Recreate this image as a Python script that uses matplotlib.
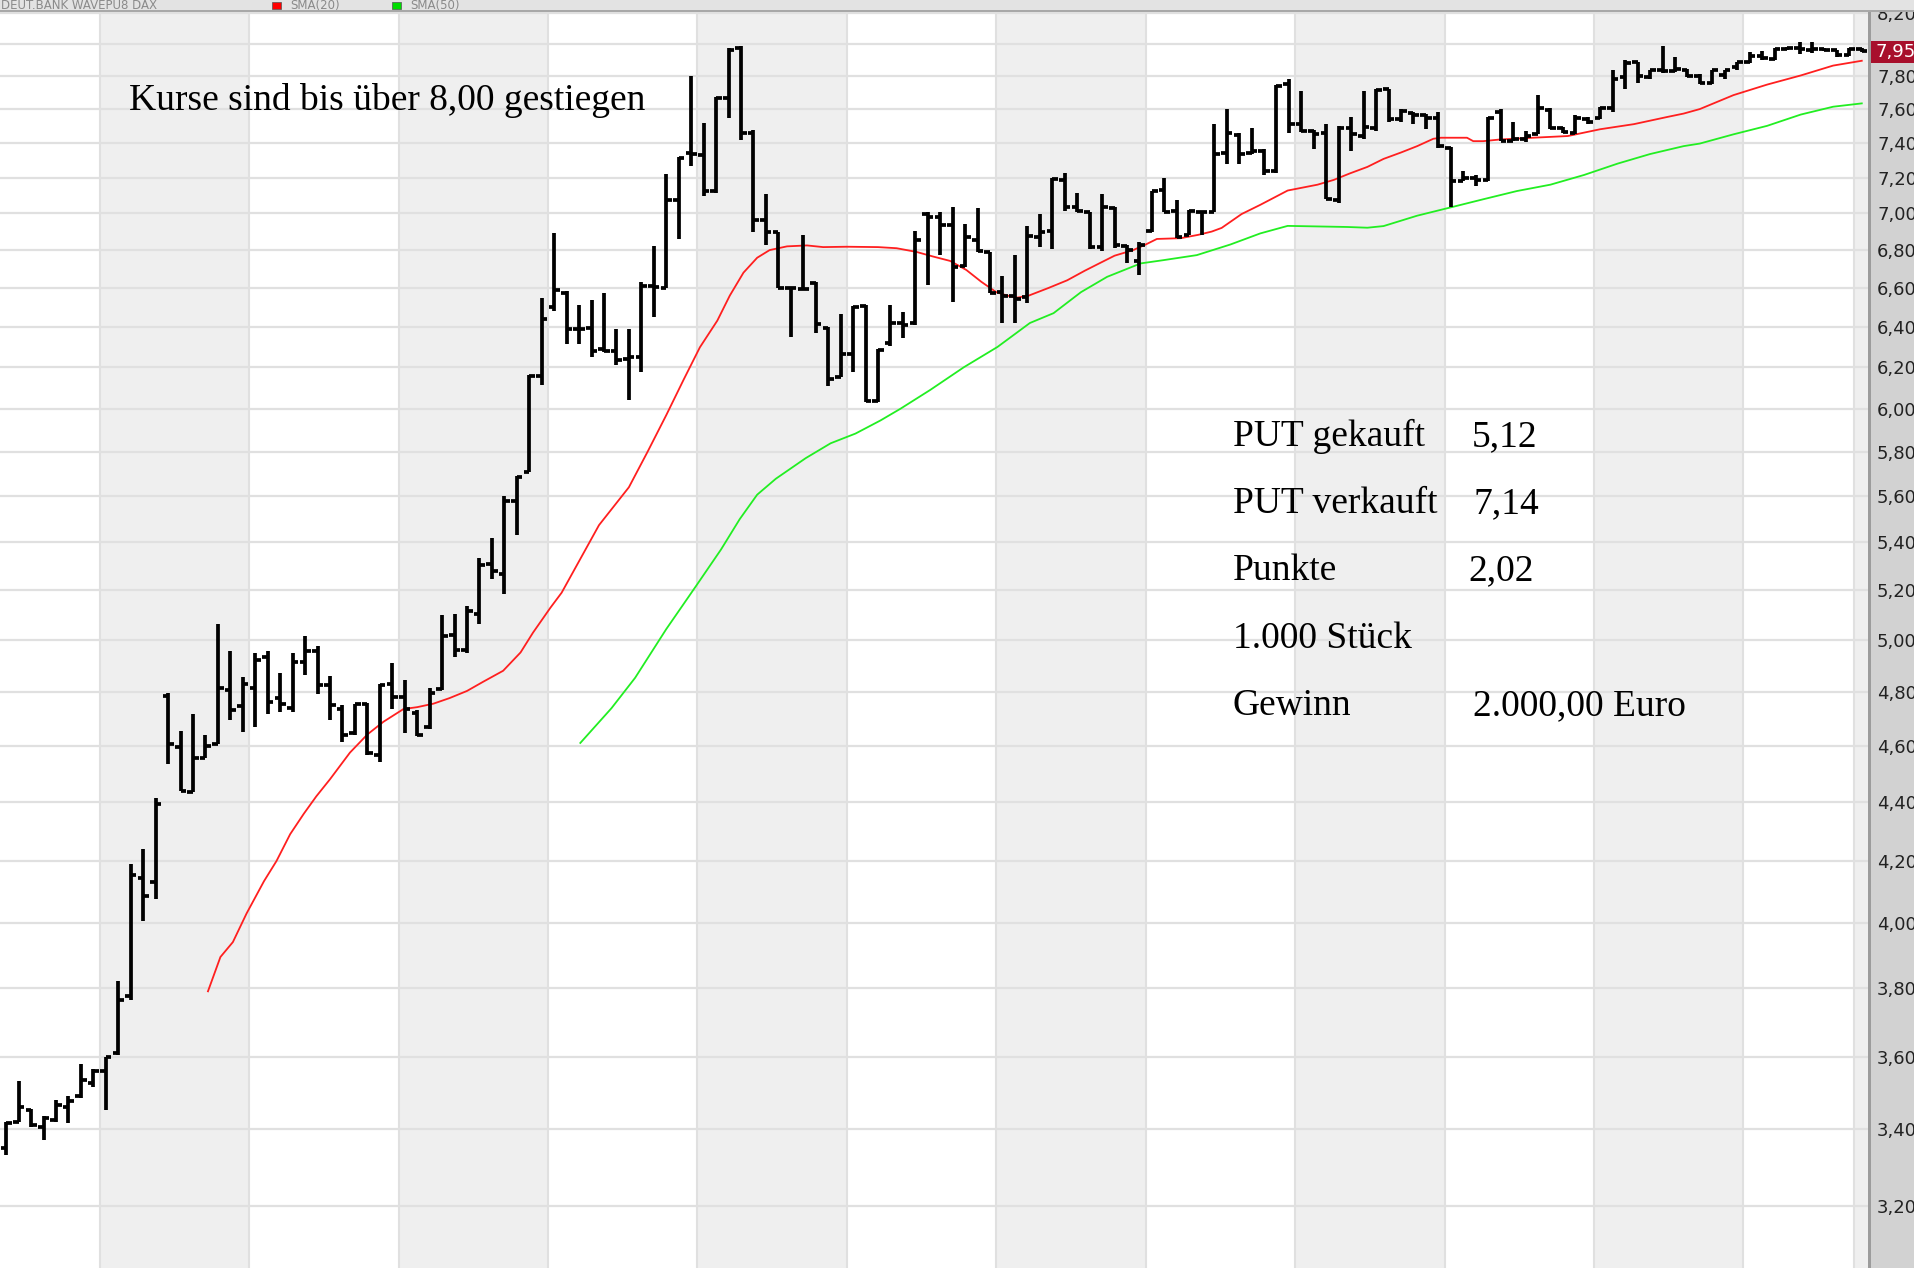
import numpy as np
import matplotlib
matplotlib.use('Agg')
import matplotlib.pyplot as plt
from matplotlib.patches import Rectangle
from matplotlib.ticker import NullLocator

W, H = 1915, 1268

# OHLC bars, one per slot (left tick = open, right tick = close)
opens = [3.35, 3.42, 3.45, 3.405, 3.425, 3.46, 3.49, 3.525, 3.56, 3.61,
         3.775, 4.145, 4.13, 4.785, 4.595, 4.435, 4.555, 4.605, 4.805, 4.745,
         4.815, 4.935, 4.775, 4.74, 4.915, 4.955, 4.825, 4.735, 4.645, 4.755,
         4.565, 4.83, 4.78, 4.72, 4.67, 4.81, 5.02, 4.96, 5.105, 5.31,
         5.265, 5.58, 5.71, 6.155, 6.50, 6.575, 6.39, 6.395, 6.29, 6.28,
         6.24, 6.25, 6.61, 6.60, 7.075, 7.34, 7.33, 7.125, 7.665, 7.975,
         7.46, 6.965, 6.895, 6.60, 6.595, 6.625, 6.395, 6.15, 6.265, 6.505,
         6.035, 6.32, 6.42, 6.42, 6.995, 6.98, 6.935, 6.715, 6.855, 6.79,
         6.58, 6.56, 6.555, 6.87, 6.905, 7.185, 7.035, 7.005, 6.815, 7.03,
         6.82, 6.74, 6.905, 7.13, 7.015, 6.88, 7.005, 7.01, 7.34, 7.445,
         7.34, 7.355, 7.235, 7.75, 7.51, 7.47, 7.46, 7.075, 7.49, 7.44,
         7.49, 7.72, 7.54, 7.575, 7.565, 7.545, 7.37, 7.18, 7.195, 7.185,
         7.585, 7.41, 7.42, 7.45, 7.595, 7.49, 7.46, 7.54, 7.545, 7.605,
         7.795, 7.885, 7.795, 7.835, 7.83, 7.84, 7.80, 7.755, 7.805, 7.855,
         7.885, 7.925, 7.905, 7.97, 7.975, 7.965, 7.97, 7.96, 7.93, 7.97]
highs = [3.42, 3.53, 3.455, 3.435, 3.48, 3.49, 3.58, 3.565, 3.60, 3.82,
         4.19, 4.24, 4.415, 4.795, 4.655, 4.715, 4.64, 5.065, 4.955, 4.855,
         4.95, 4.955, 4.87, 4.95, 5.015, 4.975, 4.86, 4.75, 4.755, 4.757,
         4.83, 4.91, 4.845, 4.73, 4.815, 5.10, 5.105, 5.135, 5.335, 5.42,
         5.60, 5.69, 6.16, 6.55, 6.89, 6.585, 6.51, 6.54, 6.575, 6.39,
         6.39, 6.63, 6.82, 7.22, 7.32, 7.80, 7.515, 7.675, 7.975, 7.99,
         7.475, 7.105, 6.90, 6.605, 6.88, 6.63, 6.40, 6.465, 6.505, 6.51,
         6.29, 6.51, 6.475, 6.905, 7.005, 7.01, 7.035, 6.94, 7.03, 6.79,
         6.66, 6.775, 6.93, 6.995, 7.195, 7.225, 7.115, 7.01, 7.105, 7.035,
         6.83, 6.845, 7.125, 7.195, 7.075, 7.02, 7.005, 7.51, 7.60, 7.46,
         7.49, 7.365, 7.745, 7.78, 7.71, 7.475, 7.51, 7.50, 7.555, 7.71,
         7.72, 7.722, 7.60, 7.585, 7.57, 7.585, 7.375, 7.235, 7.215, 7.555,
         7.60, 7.525, 7.47, 7.685, 7.605, 7.495, 7.565, 7.55, 7.61, 7.84,
         7.90, 7.89, 7.84, 7.985, 7.92, 7.845, 7.815, 7.84, 7.84, 7.89,
         7.95, 7.955, 7.975, 7.98, 8.01, 8.01, 7.975, 7.965, 7.975, 7.975]
lows = [3.33, 3.42, 3.405, 3.37, 3.42, 3.415, 3.485, 3.515, 3.45, 3.605,
        3.765, 4.005, 4.075, 4.535, 4.44, 4.435, 4.555, 4.605, 4.695, 4.65,
        4.67, 4.715, 4.725, 4.725, 4.865, 4.79, 4.695, 4.615, 4.64, 4.565,
        4.54, 4.735, 4.645, 4.635, 4.66, 4.805, 4.935, 4.95, 5.065, 5.245,
        5.185, 5.43, 5.71, 6.115, 6.48, 6.315, 6.315, 6.25, 6.275, 6.21,
        6.04, 6.175, 6.45, 6.60, 6.86, 7.265, 7.095, 7.115, 7.545, 7.415,
        6.90, 6.83, 6.60, 6.35, 6.59, 6.37, 6.11, 6.15, 6.175, 6.03,
        6.03, 6.305, 6.345, 6.41, 6.615, 6.775, 6.525, 6.71, 6.79, 6.575,
        6.42, 6.42, 6.52, 6.815, 6.805, 7.015, 7.005, 6.805, 6.795, 6.81,
        6.73, 6.67, 6.895, 7.005, 6.865, 6.88, 6.88, 7.005, 7.28, 7.28,
        7.335, 7.215, 7.225, 7.46, 7.465, 7.365, 7.08, 7.06, 7.355, 7.42,
        7.47, 7.52, 7.52, 7.51, 7.48, 7.37, 7.035, 7.18, 7.15, 7.18,
        7.41, 7.41, 7.405, 7.45, 7.48, 7.46, 7.45, 7.51, 7.54, 7.585,
        7.72, 7.755, 7.78, 7.82, 7.825, 7.795, 7.75, 7.75, 7.785, 7.835,
        7.88, 7.90, 7.90, 7.96, 7.935, 7.945, 7.955, 7.92, 7.925, 7.95]
closes = [3.415, 3.46, 3.41, 3.43, 3.465, 3.475, 3.535, 3.56, 3.60, 3.765,
          4.155, 4.085, 4.395, 4.605, 4.44, 4.555, 4.60, 4.815, 4.73, 4.83,
          4.92, 4.76, 4.755, 4.915, 4.955, 4.825, 4.75, 4.64, 4.755, 4.575,
          4.825, 4.78, 4.735, 4.64, 4.795, 5.015, 4.96, 5.115, 5.305, 5.28,
          5.58, 5.685, 6.155, 6.44, 6.59, 6.39, 6.39, 6.28, 6.28, 6.235,
          6.25, 6.61, 6.605, 7.075, 7.31, 7.335, 7.125, 7.665, 7.965, 7.455,
          6.965, 6.90, 6.60, 6.60, 6.595, 6.415, 6.145, 6.265, 6.50, 6.035,
          6.285, 6.42, 6.41, 6.855, 6.98, 6.935, 6.71, 6.87, 6.795, 6.575,
          6.56, 6.545, 6.875, 6.895, 7.19, 7.035, 7.015, 6.815, 7.035, 6.825,
          6.80, 6.83, 7.125, 7.01, 6.87, 7.015, 7.005, 7.335, 7.46, 7.335,
          7.355, 7.235, 7.74, 7.51, 7.47, 7.45, 7.08, 7.49, 7.45, 7.495,
          7.715, 7.54, 7.59, 7.565, 7.545, 7.38, 7.18, 7.195, 7.185, 7.545,
          7.41, 7.425, 7.44, 7.605, 7.49, 7.465, 7.545, 7.52, 7.605, 7.785,
          7.88, 7.80, 7.835, 7.83, 7.845, 7.80, 7.755, 7.835, 7.84, 7.885,
          7.925, 7.91, 7.97, 7.975, 7.97, 7.97, 7.96, 7.93, 7.97, 7.955]

# moving averages (bar position, price)
sma20_x = [16.2, 17.2, 18.2, 19.3, 20.7, 21.7, 22.8, 23.9, 24.9, 26,
           27.6, 29, 30.3, 31.9, 33, 34.3, 35.6, 37, 38.3, 39.9,
           41.3, 42.3, 43.7, 44.6, 47.6, 50, 51.5, 53, 54.4, 55.7,
           57.1, 58.1, 59.2, 60.3, 61.3, 62.7, 64.3, 65.6, 67.5, 70,
           71.5, 73.1, 74.4, 75.8, 77.1, 78.3, 79.5, 80.4, 81.2, 82.1,
           83.7, 85.2, 86.6, 87.8, 89, 90.5, 91.5, 92.4, 94.3, 95.7,
           96.8, 97.6, 99.2, 100.7, 102.9, 105.3, 106.6, 107.9, 109.3, 110.6,
           112, 113.3, 114.6, 115.2, 117.3, 117.8, 118.6, 120, 122.6, 125.4,
           126.7, 128, 130.7, 133.4, 134.7, 136, 138.7, 141.4, 144.1, 146.7, 149]
sma20_y = [3.79, 3.894, 3.94, 4.03, 4.134, 4.20, 4.29, 4.36, 4.42, 4.48,
           4.575, 4.641, 4.688, 4.735, 4.742, 4.755, 4.776, 4.803, 4.838, 4.88,
           4.951, 5.029, 5.129, 5.19, 5.474, 5.64, 5.80, 5.97, 6.14, 6.298,
           6.432, 6.56, 6.68, 6.759, 6.80, 6.82, 6.825, 6.816, 6.818, 6.816,
           6.81, 6.79, 6.766, 6.742, 6.694, 6.632, 6.578, 6.56, 6.55, 6.56,
           6.60, 6.64, 6.69, 6.73, 6.77, 6.80, 6.83, 6.86, 6.864, 6.882,
           6.90, 6.92, 6.996, 7.047, 7.127, 7.16, 7.187, 7.224, 7.261, 7.307,
           7.344, 7.381, 7.424, 7.43, 7.43, 7.41, 7.41, 7.42, 7.43, 7.44,
           7.46, 7.48, 7.51, 7.553, 7.573, 7.60, 7.684, 7.748, 7.804, 7.865, 7.895]
sma50_x = [46.1, 48.6, 50.5, 53, 55.4, 57.4, 58.9, 60.3, 61.8, 64.2,
           66.2, 68.2, 70.2, 71.8, 74.2, 76.9, 79.6, 82.2, 84.1, 86.3,
           88.4, 91.1, 92.9, 95.6, 98.3, 100.7, 102.9, 107.7, 109.3, 110.6,
           113.3, 116, 118.6, 121.3, 124, 126.7, 129.4, 132, 134.7, 136,
           138.7, 141.4, 144.1, 146.7, 149]
sma50_y = [4.61, 4.738, 4.853, 5.043, 5.218, 5.37, 5.50, 5.607, 5.678, 5.771,
           5.839, 5.884, 5.945, 6.0, 6.09, 6.2, 6.3, 6.42, 6.47, 6.578,
           6.658, 6.729, 6.746, 6.773, 6.83, 6.89, 6.931, 6.925, 6.921, 6.93,
           6.987, 7.033, 7.078, 7.124, 7.16, 7.215, 7.28, 7.335, 7.381, 7.396,
           7.45, 7.50, 7.567, 7.614, 7.634]

price_ticks = [3.2, 3.4, 3.6, 3.8, 4.0, 4.2, 4.4, 4.6, 4.8, 5.0, 5.2, 5.4, 5.6,
               5.8, 6.0, 6.2, 6.4, 6.6, 6.8, 7.0, 7.2, 7.4, 7.6, 7.8, 8.0, 8.2]
band_start = [7.5, 31.5, 55.5, 79.5, 103.5, 127.5, 148.4]
band_end = [19.5, 43.5, 67.5, 91.5, 115.5, 139.5, 149.5]
last_price = 7.95

headline = 'Kurse sind bis über 8,00 gestiegen'
trade_labels = ['PUT gekauft', 'PUT verkauft', 'Punkte', '1.000 Stück', 'Gewinn']
trade_values = ['5,12', '7,14', '2,02', '', '2.000,00 Euro']


def de(v):
    return ('%.2f' % v).replace('.', ',')


def fx(px):
    return px / W


def fy(py):
    return 1 - py / H


def main():
    fig = plt.figure(figsize=(W / 100, H / 100), dpi=100)
    fig.patch.set_facecolor('white')

    plot_right = 1868
    head = 12
    ax = fig.add_axes([0, 0, fx(plot_right), (H - head) / H])
    ax.set_facecolor('white')

    for s, e in zip(band_start, band_end):
        ax.axvspan(s, e, color='#efefef', lw=0, zorder=0)
    for edge in band_start + band_end[:-1]:
        ax.axvline(edge, color='#e0e0e0', lw=1.5, zorder=0.5)

    ax.set_yscale('log')
    ax.set_ylim(3.047, 8.2045)
    ax.set_xlim(-0.5, 149.5)
    ax.yaxis.set_minor_locator(NullLocator())
    ax.set_yticks(price_ticks)
    # the 8,00 label sits under the last-price marker
    ax.set_yticklabels(['' if abs(t - 8.0) < 1e-9 else de(t) for t in price_ticks])
    ax.grid(axis='y', color='#e0e0e0', lw=1.6, zorder=0.6)
    ax.set_xticks([])
    ax.tick_params(axis='y', length=0, pad=6.5, labelsize=13, labelcolor='#222222',
                   left=False, labelleft=False, right=False, labelright=True)
    for t in ax.get_yticklabels():
        t.set_fontfamily('DejaVu Sans')
    for sp in ax.spines.values():
        sp.set_visible(False)

    x = np.arange(len(opens))
    ax.plot(sma20_x, sma20_y, color='#ff1f1f', lw=1.3, zorder=2)
    ax.plot(sma50_x, sma50_y, color='#22ee22', lw=1.3, zorder=2)
    ax.vlines(x, lows, highs, color='black', lw=2.7, zorder=3)
    ax.hlines(opens, x - 0.45, x, color='black', lw=2.7, zorder=3)
    ax.hlines(closes, x, x + 0.45, color='black', lw=2.7, zorder=3)

    # right price panel
    fig.patches.append(Rectangle((fx(plot_right), 0), 1 - fx(plot_right), 1,
                                 transform=fig.transFigure, fc='#d2d2d2', ec='none', zorder=-1))
    fig.patches.append(Rectangle((fx(plot_right), 0), fx(3), 1,
                                 transform=fig.transFigure, fc='#9c9c9c', ec='none', zorder=-0.5))
    # header strip
    fig.patches.append(Rectangle((0, fy(head)), 1, head / H,
                                 transform=fig.transFigure, fc='#e3e3e3', ec='none', zorder=4))
    fig.patches.append(Rectangle((0, fy(head)), 1, 2 / H,
                                 transform=fig.transFigure, fc='#a8a8a8', ec='none', zorder=4.1))
    fig.text(fx(1), fy(9), 'DEUT.BANK WAVEPU8 DAX', fontsize=8.5, color='#8a8a8a',
             va='baseline', zorder=5)
    fig.patches.append(Rectangle((fx(272), fy(9)), fx(9), 7 / H,
                                 transform=fig.transFigure, fc='#ff0000', ec='#555555', lw=0.5, zorder=5))
    fig.text(fx(290), fy(9), 'SMA(20)', fontsize=8.5, color='#8a8a8a', va='baseline', zorder=5)
    fig.patches.append(Rectangle((fx(392), fy(9)), fx(9), 7 / H,
                                 transform=fig.transFigure, fc='#00dd00', ec='#555555', lw=0.5, zorder=5))
    fig.text(fx(410), fy(9), 'SMA(50)', fontsize=8.5, color='#8a8a8a', va='baseline', zorder=5)

    # last price marker
    y_last = 44 + 1268 * np.log(8.0 / last_price)
    fig.patches.append(Rectangle((fx(1871), fy(y_last + 11)), 1 - fx(1871), 22 / H,
                                 transform=fig.transFigure, fc='#a8102c', ec='none', zorder=5))
    fig.text(fx(1876), fy(y_last), de(last_price), fontsize=13, color='white',
             va='center', family='DejaVu Sans', zorder=6)

    # annotations
    serif = 'Liberation Serif'
    fig.text(fx(129), fy(110), headline, fontsize=27, family=serif, va='baseline', zorder=6)
    value_x = [1472, 1474, 1468, 1472, 1473]
    for k, (lab, val) in enumerate(zip(trade_labels, trade_values)):
        base = 446 + 67.2 * k
        fig.text(fx(1233), fy(base), lab, fontsize=27, family=serif, va='baseline', zorder=6)
        if val:
            fig.text(fx(value_x[k]), fy(base), val, fontsize=27, family=serif,
                     va='baseline', zorder=6)

    fig.savefig('out.png', dpi=100)


if __name__ == '__main__':
    main()
